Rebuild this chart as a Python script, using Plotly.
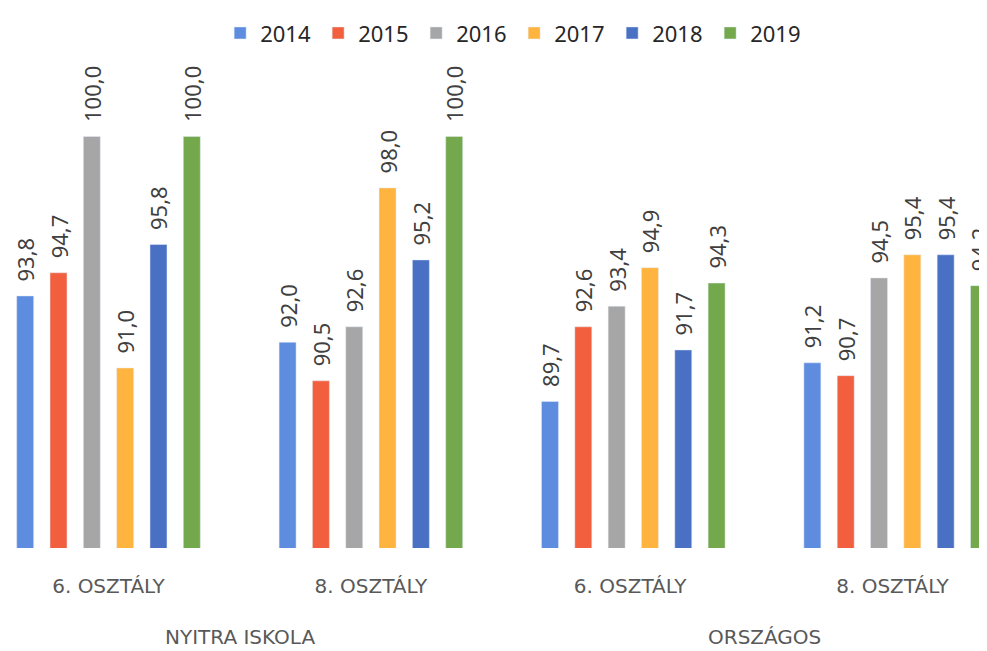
import plotly.graph_objects as go

groups = ["6. OSZTÁLY", "8. OSZTÁLY", "6. OSZTÁLY ", "8. OSZTÁLY "]
years = ["2014", "2015", "2016", "2017", "2018", "2019"]
values = {
    "2014": [93.8, 92.0, 89.7, 91.2],
    "2015": [94.7, 90.5, 92.6, 90.7],
    "2016": [100.0, 92.6, 93.4, 94.5],
    "2017": [91.0, 98.0, 94.9, 95.4],
    "2018": [95.8, 95.2, 91.7, 95.4],
    "2019": [100.0, 100.0, 94.3, 94.2],
}
colors = ["#5E8DE0", "#F25F3F", "#A6A6A6", "#FFB43F", "#4A70C4", "#73A84C"]
sections = ["NYITRA ISKOLA", "ORSZÁGOS"]

fig = go.Figure()
for year, col in zip(years, colors):
    fig.add_trace(go.Bar(
        name=year,
        x=groups,
        y=values[year],
        marker_color=col,
        texttemplate="\u00a0\u00a0%{y:.1f}",
        textposition="outside",
        textangle=-90,
        constraintext="none",
        cliponaxis=False,
        textfont=dict(size=22, color="#404040"),
    ))

# the page body adds an 8px margin, so the figure is a bit smaller than the window
fig.update_layout(
    barmode="group",
    bargap=0.238,
    bargroupgap=0.49,
    separators=", ",
    width=979,
    height=643,
    margin=dict(l=0, r=0, t=77, b=103),
    plot_bgcolor="white",
    paper_bgcolor="white",
    font=dict(family="Noto Sans, sans-serif", color="#404040"),
    legend=dict(
        orientation="h",
        x=0.517, xanchor="center",
        y=1.112, yanchor="middle",
        font=dict(size=22, color="#262626"),
        itemwidth=30,
        entrywidth=53,
        traceorder="normal",
    ),
)
fig.update_xaxes(
    range=[-0.383, 3.348],
    showgrid=False,
    showline=False,
    ticks="outside",
    ticklen=20,
    tickcolor="rgba(0,0,0,0)",
    tickfont=dict(size=20, family="DejaVu Sans, sans-serif", color="#595959"),
)
fig.update_yaxes(
    range=[84, 102],
    showgrid=False,
    showticklabels=False,
    zeroline=False,
    showline=False,
)

for i, label in enumerate(sections):
    fig.add_annotation(
        x=0.5 + 2 * i, y=-0.192,
        xref="x", yref="paper",
        yanchor="middle",
        text=label,
        showarrow=False,
        font=dict(size=20, family="DejaVu Sans, sans-serif", color="#595959"),
    )

fig.write_html("out.html")
